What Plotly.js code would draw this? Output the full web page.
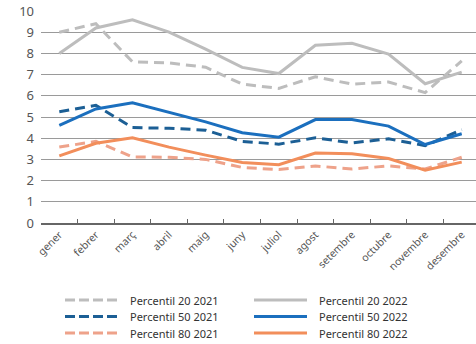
<!DOCTYPE html>
<html>
<head>
<meta charset="utf-8">
<script src="https://cdn.plot.ly/plotly-3.0.1.min.js"></script>
<style>
  html, body { margin: 0; padding: 0; background: #fff; }
  #chart { width: 476px; height: 344px; }
</style>
</head>
<body>
<div id="chart"></div>
<script>
// Months (Catalan)
const months = ["gener", "febrer", "març", "abril", "maig", "juny",
                "juliol", "agost", "setembre", "octubre", "novembre", "desembre"];

// Percentile values per month
const p20_2021 = [9.0, 9.4, 7.6, 7.55, 7.35, 6.55, 6.35, 6.9, 6.55, 6.65, 6.15, 7.65];
const p50_2021 = [5.25, 5.55, 4.5, 4.47, 4.38, 3.85, 3.72, 4.02, 3.78, 3.97, 3.65, 4.4];
const p80_2021 = [3.58, 3.85, 3.12, 3.1, 3.0, 2.62, 2.52, 2.69, 2.55, 2.69, 2.55, 3.1];
const p20_2022 = [8.0, 9.2, 9.58, 9.0, 8.2, 7.34, 7.05, 8.38, 8.48, 7.97, 6.57, 7.12];
const p50_2022 = [4.6, 5.38, 5.67, 5.22, 4.77, 4.26, 4.05, 4.88, 4.88, 4.57, 3.7, 4.21];
const p80_2022 = [3.17, 3.76, 4.02, 3.58, 3.2, 2.85, 2.75, 3.3, 3.27, 3.04, 2.49, 2.87];

const grey = "#bdbdbd";
const blue = "#1b6fbe";
const blueDark = "#1c5f95";
const orange = "#f28e5b";
const orangeLight = "#eea28a";
const dashPattern = "10px,6px";

// Each legend entry: column (0 = 2021 dashed, 1 = 2022 solid) and row
const entries = [
  { name: "Percentil 20 2021", y: p20_2021, color: grey, dashed: true, col: 0, row: 0 },
  { name: "Percentil 50 2021", y: p50_2021, color: blueDark, dashed: true, col: 0, row: 1 },
  { name: "Percentil 80 2021", y: p80_2021, color: orangeLight, dashed: true, col: 0, row: 2 },
  { name: "Percentil 20 2022", y: p20_2022, color: grey, dashed: false, col: 1, row: 0 },
  { name: "Percentil 50 2022", y: p50_2022, color: blue, dashed: false, col: 1, row: 1 },
  { name: "Percentil 80 2022", y: p80_2022, color: orange, dashed: false, col: 1, row: 2 }
];

// Plot box in pixels
const W = 476, H = 344;
const M = { l: 41, r: 0, t: 11, b: 121 };
const plotW = W - M.l - M.r, plotH = H - M.t - M.b;
const toPaperX = px => (px - M.l) / plotW;
const toPaperY = py => (H - M.b - py) / plotH;

const data = entries.map(e => ({
  type: "scatter",
  mode: "lines",
  name: e.name,
  x: months,
  y: e.y,
  line: { color: e.color, width: 3, dash: e.dashed ? dashPattern : "solid" },
  showlegend: false
}));

// Hand-built two-column legend below the plot
const legendCols = [65, 254];
const legendRows = [300, 316.5, 333];
const swatchLen = 53;
const shapes = [];
const annotations = [];
entries.forEach(e => {
  const x0 = legendCols[e.col];
  const yy = legendRows[e.row];
  shapes.push({
    type: "line", xref: "paper", yref: "paper",
    x0: toPaperX(x0), x1: toPaperX(x0 + swatchLen),
    y0: toPaperY(yy), y1: toPaperY(yy),
    line: { color: e.color, width: 3, dash: e.dashed ? "10px,4px" : "solid" }
  });
  annotations.push({
    xref: "paper", yref: "paper",
    x: toPaperX(x0 + swatchLen + 10), y: toPaperY(yy),
    xanchor: "left", yanchor: "middle",
    text: e.name, showarrow: false,
    font: { family: "Noto Sans, sans-serif", size: 11, color: "#333" }
  });
});

const layout = {
  width: W,
  height: H,
  margin: { l: M.l, r: M.r, t: M.t, b: M.b, autoexpand: false },
  paper_bgcolor: "#fff",
  plot_bgcolor: "#fff",
  font: { family: "Noto Sans, sans-serif", color: "#555" },
  showlegend: false,
  xaxis: {
    type: "category",
    range: [-0.5, 11.39],
    tickson: "boundaries",
    ticks: "inside",
    ticklen: 4,
    tickwidth: 1,
    tickcolor: "#666",
    showgrid: false,
    showline: true,
    linecolor: "#666",
    linewidth: 1.5,
    tickangle: -45,
    tickfont: { size: 10.5, color: "#555" },
    fixedrange: true
  },
  yaxis: {
    range: [0, 10],
    dtick: 1,
    showgrid: true,
    gridcolor: "#9a9a9a",
    gridwidth: 1,
    zeroline: false,
    showline: false,
    ticks: "",
    ticklabelstandoff: 6,
    tickfont: { size: 13, color: "#555" },
    fixedrange: true
  },
  shapes: shapes,
  annotations: annotations
};

Plotly.newPlot("chart", data, layout, { displayModeBar: false, staticPlot: true });
</script>
</body>
</html>
